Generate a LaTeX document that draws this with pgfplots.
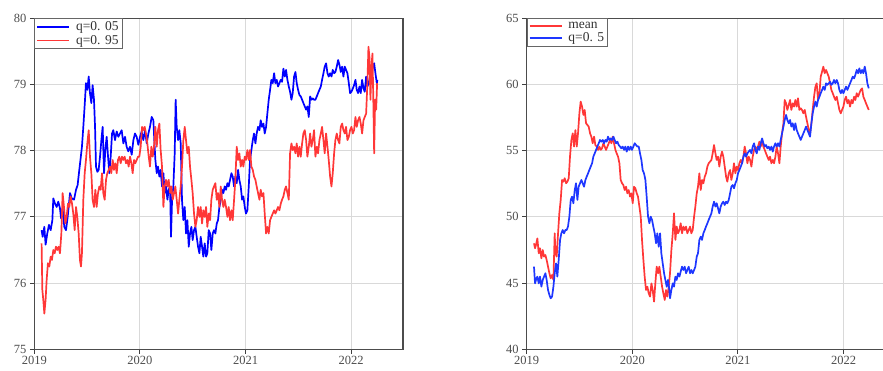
\documentclass[border=0pt]{standalone}
\usepackage{pgfplots}
\usepackage{pgfplotstable}
\usepackage{fontspec}
\setmainfont{Liberation Serif}
\pgfplotsset{compat=1.18}
\definecolor{qblue}{RGB}{0,0,255}
\definecolor{qred}{RGB}{255,55,55}
\definecolor{mblue}{RGB}{30,55,255}

\pgfplotstableread{
x y
2019.069 76.80
2019.079 76.70
2019.095 76.85
2019.107 76.58
2019.123 76.75
2019.139 76.88
2019.155 76.80
2019.171 76.95
2019.180 77.28
2019.196 77.20
2019.212 77.15
2019.227 77.23
2019.243 77.13
2019.253 76.98
2019.268 77.13
2019.284 76.85
2019.300 76.80
2019.316 77.00
2019.338 77.36
2019.354 77.28
2019.376 77.26
2019.395 77.41
2019.410 77.48
2019.426 77.71
2019.439 77.89
2019.451 78.06
2019.464 78.36
2019.480 78.77
2019.489 79.02
2019.502 78.92
2019.515 79.12
2019.527 78.87
2019.540 78.72
2019.552 78.99
2019.565 78.77
2019.575 78.36
2019.584 77.76
2019.597 77.68
2019.609 77.71
2019.622 77.91
2019.635 78.16
2019.647 78.36
2019.660 77.66
2019.672 78.01
2019.685 78.21
2019.698 77.91
2019.710 77.66
2019.723 77.91
2019.736 78.26
2019.748 78.31
2019.764 78.16
2019.780 78.29
2019.796 78.21
2019.811 78.26
2019.827 78.31
2019.843 78.11
2019.859 78.21
2019.874 78.06
2019.890 77.99
2019.906 78.06
2019.922 77.94
2019.938 78.16
2019.953 78.26
2019.969 78.21
2019.985 78.09
2020.001 78.21
2020.016 78.29
2020.032 78.16
2020.048 78.31
2020.064 78.11
2020.080 78.26
2020.095 78.36
2020.111 78.51
2020.127 78.46
2020.136 78.16
2020.146 77.86
2020.159 77.66
2020.171 77.76
2020.184 77.61
2020.196 77.71
2020.209 77.46
2020.222 77.66
2020.234 77.36
2020.247 77.46
2020.260 77.26
2020.272 77.41
2020.285 77.46
2020.294 76.70
2020.304 77.26
2020.316 77.46
2020.329 77.96
2020.338 78.77
2020.348 78.36
2020.361 78.16
2020.373 78.31
2020.386 78.11
2020.398 77.26
2020.411 76.95
2020.424 77.15
2020.436 76.75
2020.449 76.95
2020.462 76.55
2020.474 76.75
2020.487 76.85
2020.499 76.65
2020.512 76.80
2020.525 76.85
2020.537 76.70
2020.550 76.55
2020.563 76.45
2020.575 76.70
2020.588 76.55
2020.600 76.40
2020.613 76.60
2020.626 76.40
2020.638 76.45
2020.651 76.80
2020.664 76.75
2020.676 76.50
2020.689 76.75
2020.701 76.80
2020.714 76.75
2020.727 76.90
2020.739 76.95
2020.752 77.15
2020.765 77.26
2020.777 77.41
2020.790 77.36
2020.802 77.46
2020.815 77.41
2020.828 77.51
2020.840 77.46
2020.853 77.56
2020.866 77.66
2020.878 77.61
2020.891 77.46
2020.903 77.61
2020.916 77.51
2020.929 77.71
2020.941 77.56
2020.954 77.46
2020.967 77.26
2020.979 77.31
2020.992 77.15
2021.004 77.05
2021.017 77.10
2021.030 77.46
2021.042 77.86
2021.055 78.01
2021.068 78.16
2021.080 78.26
2021.093 78.11
2021.105 78.26
2021.118 78.36
2021.131 78.31
2021.143 78.46
2021.156 78.36
2021.169 78.41
2021.181 78.26
2021.194 78.36
2021.206 78.56
2021.219 78.77
2021.232 78.92
2021.244 79.07
2021.257 79.02
2021.270 79.17
2021.282 79.02
2021.295 79.07
2021.307 78.97
2021.320 79.02
2021.333 79.07
2021.345 79.04
2021.358 79.24
2021.371 79.12
2021.383 79.22
2021.396 79.07
2021.409 78.97
2021.421 78.89
2021.434 78.77
2021.446 78.87
2021.459 79.12
2021.472 79.19
2021.484 79.02
2021.497 78.92
2021.510 78.84
2021.522 78.82
2021.535 78.77
2021.547 78.72
2021.560 78.67
2021.573 78.62
2021.585 78.67
2021.598 78.51
2021.611 78.82
2021.623 78.77
2021.636 78.79
2021.648 78.77
2021.661 78.77
2021.674 78.82
2021.686 78.87
2021.699 78.92
2021.712 78.97
2021.724 79.07
2021.737 79.17
2021.749 79.27
2021.762 79.32
2021.775 79.17
2021.787 79.12
2021.800 79.17
2021.813 79.12
2021.825 79.22
2021.838 79.17
2021.850 79.19
2021.863 79.27
2021.876 79.37
2021.888 79.30
2021.901 79.19
2021.914 79.27
2021.926 79.12
2021.939 79.27
2021.951 79.22
2021.964 79.17
2021.977 79.02
2021.989 78.87
2022.002 78.89
2022.015 78.94
2022.027 78.99
2022.040 79.07
2022.052 78.92
2022.065 78.87
2022.078 78.97
2022.090 78.87
2022.103 79.07
2022.116 78.94
2022.128 78.89
2022.141 79.12
2022.153 78.97
2022.166 79.02
2022.179 79.14
2022.191 79.12
2022.204 79.27
2022.217 79.32
2022.229 79.17
2022.242 79.02
2022.248 79.07
}\leftblue

\pgfplotstableread{
x y
2019.069 76.60
2019.076 75.90
2019.085 75.75
2019.095 75.54
2019.107 75.75
2019.117 76.05
2019.129 76.30
2019.142 76.25
2019.155 76.40
2019.167 76.35
2019.180 76.50
2019.193 76.45
2019.205 76.55
2019.218 76.50
2019.230 76.55
2019.243 76.45
2019.256 76.75
2019.268 77.36
2019.281 77.15
2019.294 76.90
2019.306 77.00
2019.319 77.20
2019.331 77.15
2019.344 77.31
2019.357 77.20
2019.369 77.05
2019.382 76.80
2019.395 77.15
2019.407 77.00
2019.420 76.75
2019.432 76.35
2019.442 76.25
2019.451 76.45
2019.464 77.26
2019.477 77.66
2019.489 77.86
2019.502 78.11
2019.515 78.31
2019.527 77.91
2019.540 77.66
2019.552 77.26
2019.565 77.15
2019.578 77.41
2019.590 77.15
2019.603 77.36
2019.616 77.46
2019.628 77.41
2019.641 77.66
2019.653 77.36
2019.666 77.26
2019.679 77.56
2019.691 77.66
2019.704 77.71
2019.717 77.76
2019.729 77.66
2019.742 77.86
2019.754 77.71
2019.767 77.81
2019.780 77.66
2019.792 77.86
2019.805 77.91
2019.818 77.81
2019.830 77.91
2019.843 77.86
2019.855 77.91
2019.868 77.81
2019.881 77.86
2019.893 77.76
2019.906 77.91
2019.919 77.81
2019.931 77.66
2019.944 77.86
2019.956 77.81
2019.969 77.86
2019.982 77.91
2019.994 77.91
2020.007 78.06
2020.020 78.36
2020.032 78.31
2020.045 78.36
2020.057 78.26
2020.070 78.11
2020.083 77.91
2020.095 77.76
2020.108 78.06
2020.121 77.91
2020.133 78.06
2020.146 78.36
2020.159 78.06
2020.171 78.31
2020.184 78.41
2020.196 78.01
2020.209 77.76
2020.222 77.15
2020.234 77.46
2020.247 77.56
2020.260 77.46
2020.272 77.56
2020.285 77.36
2020.297 77.46
2020.310 77.26
2020.323 77.36
2020.335 77.46
2020.348 77.26
2020.361 77.05
2020.373 77.26
2020.386 77.46
2020.398 77.76
2020.411 78.16
2020.424 78.36
2020.436 78.16
2020.449 77.96
2020.462 78.06
2020.474 77.76
2020.487 77.56
2020.499 77.36
2020.512 77.05
2020.525 76.85
2020.537 76.95
2020.550 77.15
2020.563 77.00
2020.575 77.15
2020.588 76.90
2020.600 77.10
2020.613 77.00
2020.626 77.15
2020.638 76.85
2020.651 77.05
2020.664 76.95
2020.676 77.26
2020.689 77.41
2020.701 77.46
2020.714 77.51
2020.727 77.26
2020.739 77.36
2020.752 77.15
2020.765 77.46
2020.777 77.26
2020.790 77.15
2020.802 77.26
2020.815 77.15
2020.828 77.00
2020.840 77.15
2020.853 76.95
2020.866 77.10
2020.878 76.95
2020.891 77.26
2020.903 77.56
2020.916 78.06
2020.929 77.86
2020.941 77.96
2020.954 77.76
2020.967 77.86
2020.979 77.76
2020.992 77.91
2021.004 77.86
2021.017 78.01
2021.030 77.86
2021.042 78.01
2021.055 77.76
2021.068 77.71
2021.080 77.61
2021.093 77.56
2021.105 77.46
2021.118 77.36
2021.131 77.26
2021.143 77.41
2021.156 77.31
2021.169 77.36
2021.181 77.05
2021.194 76.75
2021.206 76.85
2021.219 76.75
2021.232 76.95
2021.244 77.00
2021.257 77.05
2021.270 77.10
2021.282 77.05
2021.295 77.10
2021.307 77.15
2021.320 77.10
2021.333 77.20
2021.345 77.26
2021.358 77.31
2021.371 77.41
2021.383 77.46
2021.396 77.36
2021.409 77.26
2021.421 77.96
2021.434 78.11
2021.446 78.01
2021.459 78.06
2021.472 77.96
2021.484 78.11
2021.497 77.91
2021.510 78.06
2021.522 77.91
2021.535 78.11
2021.547 78.26
2021.560 78.31
2021.573 78.16
2021.585 77.91
2021.598 78.06
2021.611 78.26
2021.623 78.06
2021.636 78.16
2021.648 78.31
2021.661 77.91
2021.674 78.06
2021.686 77.96
2021.699 78.16
2021.712 78.26
2021.724 78.36
2021.737 78.16
2021.749 77.96
2021.762 78.26
2021.775 78.06
2021.787 77.86
2021.800 77.61
2021.813 77.46
2021.825 77.66
2021.838 77.96
2021.850 78.16
2021.863 78.26
2021.876 78.16
2021.888 78.11
2021.901 78.36
2021.914 78.41
2021.926 78.31
2021.939 78.26
2021.951 78.36
2021.964 78.16
2021.977 78.21
2021.989 78.31
2022.002 78.36
2022.015 78.26
2022.027 78.31
2022.040 78.51
2022.052 78.36
2022.065 78.46
2022.078 78.51
2022.090 78.41
2022.103 78.26
2022.116 78.46
2022.128 78.51
2022.141 78.56
2022.153 79.02
2022.163 79.57
2022.172 79.42
2022.182 78.77
2022.191 79.27
2022.201 79.47
2022.210 78.67
2022.217 77.96
2022.226 78.77
2022.236 78.62
2022.245 79.02
}\leftred

\pgfplotstableread{
x y
2019.069 48.00
2019.079 47.63
2019.088 47.88
2019.101 48.38
2019.114 47.25
2019.126 47.63
2019.139 46.87
2019.152 47.50
2019.164 47.00
2019.177 47.12
2019.189 46.75
2019.202 46.24
2019.215 45.74
2019.227 45.36
2019.240 45.61
2019.253 45.24
2019.265 48.76
2019.272 47.25
2019.284 47.00
2019.297 48.76
2019.309 50.27
2019.322 51.28
2019.335 52.79
2019.347 52.66
2019.360 52.92
2019.373 52.54
2019.385 52.66
2019.398 52.92
2019.410 54.55
2019.423 55.81
2019.436 56.31
2019.448 55.31
2019.461 56.56
2019.474 55.31
2019.486 56.31
2019.499 57.82
2019.511 58.71
2019.524 58.33
2019.537 57.70
2019.549 58.08
2019.562 57.07
2019.575 56.94
2019.587 56.82
2019.600 56.31
2019.612 56.06
2019.625 55.56
2019.638 56.06
2019.650 55.43
2019.663 55.31
2019.676 55.06
2019.688 55.31
2019.701 55.06
2019.713 55.18
2019.726 55.56
2019.739 55.31
2019.751 55.06
2019.764 55.31
2019.777 55.56
2019.789 55.81
2019.802 55.56
2019.814 56.06
2019.827 55.56
2019.840 55.06
2019.852 54.80
2019.865 54.55
2019.878 54.05
2019.890 52.79
2019.903 52.54
2019.915 52.41
2019.928 52.03
2019.941 52.28
2019.953 51.78
2019.966 52.03
2019.979 51.53
2019.991 51.78
2020.004 51.03
2020.016 52.28
2020.029 52.16
2020.042 51.78
2020.054 51.53
2020.067 50.78
2020.080 50.02
2020.092 48.26
2020.105 46.75
2020.117 45.49
2020.130 44.48
2020.143 44.73
2020.155 44.23
2020.168 43.98
2020.181 44.98
2020.193 44.48
2020.206 43.60
2020.218 44.98
2020.231 46.24
2020.244 45.74
2020.256 46.24
2020.269 45.49
2020.282 44.73
2020.294 44.23
2020.307 43.73
2020.319 44.48
2020.332 43.98
2020.345 44.73
2020.357 45.74
2020.370 47.50
2020.383 48.76
2020.395 50.27
2020.408 48.26
2020.420 49.27
2020.433 48.76
2020.446 49.01
2020.458 49.52
2020.471 48.76
2020.484 49.27
2020.496 49.01
2020.509 49.27
2020.521 48.76
2020.534 49.01
2020.547 49.27
2020.559 48.76
2020.572 49.01
2020.585 50.02
2020.597 50.78
2020.610 51.78
2020.622 52.28
2020.635 53.29
2020.648 52.03
2020.660 52.79
2020.673 52.54
2020.686 53.04
2020.698 53.29
2020.711 53.80
2020.723 54.05
2020.736 54.17
2020.749 54.30
2020.761 54.80
2020.774 55.43
2020.787 54.80
2020.799 54.30
2020.812 54.55
2020.824 53.80
2020.837 54.55
2020.850 54.93
2020.862 54.55
2020.875 53.80
2020.888 53.04
2020.900 52.66
2020.913 53.29
2020.926 53.54
2020.938 52.79
2020.951 53.29
2020.963 54.05
2020.976 53.29
2020.989 53.80
2021.001 53.54
2021.014 54.05
2021.027 54.30
2021.039 54.05
2021.052 54.55
2021.064 55.31
2021.077 54.80
2021.090 54.05
2021.102 54.55
2021.115 54.30
2021.128 53.80
2021.140 54.55
2021.153 55.06
2021.165 55.31
2021.178 55.06
2021.191 55.31
2021.203 55.68
2021.216 55.31
2021.229 55.81
2021.241 55.31
2021.254 55.06
2021.266 54.80
2021.279 54.55
2021.292 54.30
2021.304 54.55
2021.317 54.05
2021.330 54.30
2021.342 54.05
2021.355 54.55
2021.367 55.31
2021.380 54.80
2021.393 54.05
2021.405 55.31
2021.418 56.31
2021.431 57.07
2021.443 58.83
2021.456 58.58
2021.468 58.08
2021.481 58.45
2021.494 58.83
2021.506 58.08
2021.519 58.58
2021.532 58.33
2021.544 58.83
2021.557 58.33
2021.569 58.96
2021.582 58.08
2021.595 58.20
2021.607 58.08
2021.620 57.82
2021.633 58.08
2021.645 57.57
2021.658 57.07
2021.671 56.56
2021.683 56.31
2021.696 57.07
2021.708 58.08
2021.721 59.08
2021.734 59.84
2021.746 60.09
2021.759 58.83
2021.772 59.34
2021.784 60.59
2021.797 60.97
2021.809 61.35
2021.822 60.85
2021.835 61.10
2021.847 60.85
2021.860 60.59
2021.873 60.09
2021.885 59.59
2021.898 59.34
2021.910 59.08
2021.923 58.83
2021.936 59.08
2021.948 58.58
2021.961 58.08
2021.974 57.82
2021.986 58.08
2021.999 58.33
2022.011 58.83
2022.024 59.08
2022.037 58.58
2022.049 58.83
2022.062 58.33
2022.075 58.83
2022.087 58.58
2022.100 59.08
2022.112 58.83
2022.125 59.34
2022.138 59.08
2022.150 59.34
2022.163 59.59
2022.176 59.71
2022.188 59.08
2022.201 58.83
2022.213 58.58
2022.226 58.33
2022.239 58.08
}\rightred

\pgfplotstableread{
x y
2019.069 46.24
2019.079 44.98
2019.088 45.24
2019.101 45.49
2019.114 44.98
2019.126 45.49
2019.139 44.73
2019.152 45.24
2019.164 45.49
2019.177 45.74
2019.189 45.24
2019.202 44.48
2019.215 44.10
2019.227 43.85
2019.240 43.98
2019.253 44.73
2019.265 45.74
2019.278 46.49
2019.290 45.49
2019.303 46.75
2019.316 48.26
2019.328 48.76
2019.341 49.01
2019.354 48.76
2019.366 49.01
2019.379 49.01
2019.391 49.27
2019.404 50.02
2019.417 51.28
2019.429 51.53
2019.442 51.03
2019.455 52.03
2019.467 52.54
2019.480 51.28
2019.492 52.28
2019.505 52.54
2019.518 52.79
2019.530 52.54
2019.543 52.28
2019.556 52.79
2019.568 53.04
2019.581 53.29
2019.593 53.54
2019.606 53.80
2019.619 54.05
2019.631 54.55
2019.644 54.80
2019.657 55.06
2019.669 55.31
2019.682 55.56
2019.694 55.81
2019.707 55.68
2019.720 55.81
2019.732 55.56
2019.745 55.81
2019.758 55.68
2019.770 56.06
2019.783 55.81
2019.795 55.93
2019.808 55.81
2019.821 56.06
2019.833 55.81
2019.846 55.56
2019.859 55.68
2019.871 55.43
2019.884 55.31
2019.896 55.18
2019.909 55.31
2019.922 55.06
2019.934 55.31
2019.947 54.93
2019.960 55.31
2019.972 55.06
2019.985 55.31
2019.997 55.06
2020.010 55.31
2020.023 55.56
2020.035 55.43
2020.048 55.31
2020.061 55.31
2020.073 54.80
2020.086 54.30
2020.098 53.54
2020.111 53.29
2020.124 52.79
2020.136 51.53
2020.149 50.02
2020.162 49.52
2020.174 50.02
2020.187 49.77
2020.199 49.27
2020.212 48.76
2020.225 48.01
2020.237 48.76
2020.250 47.75
2020.263 48.76
2020.275 47.25
2020.288 46.49
2020.301 45.74
2020.313 45.24
2020.326 44.73
2020.338 45.24
2020.351 44.48
2020.357 43.85
2020.370 44.48
2020.383 44.98
2020.395 44.73
2020.408 45.49
2020.420 45.24
2020.433 45.74
2020.446 45.49
2020.458 45.87
2020.471 46.24
2020.484 45.99
2020.496 46.24
2020.509 45.74
2020.521 45.99
2020.534 46.24
2020.547 45.74
2020.559 45.99
2020.572 45.74
2020.585 45.99
2020.597 46.24
2020.610 47.00
2020.622 47.25
2020.635 48.26
2020.648 48.51
2020.660 48.26
2020.673 48.76
2020.686 49.01
2020.698 49.27
2020.711 49.52
2020.723 49.77
2020.736 50.02
2020.749 50.27
2020.761 50.78
2020.774 51.15
2020.787 50.78
2020.799 51.03
2020.812 50.65
2020.824 50.27
2020.837 50.78
2020.850 51.03
2020.862 51.15
2020.875 50.90
2020.888 51.15
2020.900 51.03
2020.913 51.28
2020.926 51.78
2020.938 52.28
2020.951 52.41
2020.963 52.16
2020.976 52.54
2020.989 52.79
2021.001 53.29
2021.014 53.54
2021.027 53.80
2021.039 54.05
2021.052 54.55
2021.064 54.80
2021.077 54.55
2021.090 54.80
2021.102 54.93
2021.115 55.06
2021.128 54.80
2021.140 55.31
2021.153 55.56
2021.165 55.06
2021.178 54.80
2021.191 55.31
2021.203 55.06
2021.216 55.56
2021.229 55.93
2021.241 55.56
2021.254 55.31
2021.266 55.43
2021.279 55.18
2021.292 55.31
2021.304 55.06
2021.317 55.31
2021.330 54.93
2021.342 55.31
2021.355 55.56
2021.367 55.31
2021.380 55.56
2021.393 55.31
2021.405 55.81
2021.418 56.31
2021.431 56.82
2021.443 57.32
2021.456 57.70
2021.468 57.32
2021.481 57.07
2021.494 57.32
2021.506 56.82
2021.519 57.07
2021.532 56.56
2021.544 57.07
2021.557 56.56
2021.569 56.31
2021.582 56.06
2021.595 55.81
2021.607 56.06
2021.620 56.31
2021.633 56.56
2021.645 56.82
2021.658 56.56
2021.671 56.31
2021.683 56.06
2021.696 57.07
2021.708 57.82
2021.721 58.33
2021.734 58.71
2021.746 58.33
2021.759 58.83
2021.772 59.08
2021.784 59.34
2021.797 59.59
2021.809 59.84
2021.822 59.59
2021.835 60.09
2021.847 59.97
2021.860 60.09
2021.873 60.21
2021.885 59.97
2021.898 60.09
2021.910 60.34
2021.923 60.09
2021.936 60.34
2021.948 60.09
2021.961 59.59
2021.974 59.34
2021.986 59.59
2021.999 59.34
2022.011 59.59
2022.024 59.84
2022.037 59.59
2022.049 59.84
2022.062 60.09
2022.075 60.34
2022.087 60.59
2022.100 60.46
2022.112 60.72
2022.125 61.10
2022.138 60.85
2022.150 61.22
2022.163 60.85
2022.176 61.10
2022.188 60.85
2022.201 61.35
2022.213 60.85
2022.226 60.09
2022.239 59.71
}\rightblue

\begin{document}
\begin{tikzpicture}
\useasboundingbox (0,0) rectangle (883pt,370pt);
\pgfplotsset{
  myaxis/.style={
    scale only axis,
    height=331pt,
    anchor=south west,
    xmin=2019,
    xtick={2019,2020,2021,2022},
    xticklabels={2019,2020,2021,2022},
    grid=major,
    major grid style={draw=black!15, line width=1pt},
    tick align=outside,
    tick pos=left,
    major tick length=4.5pt,
    tick style={black!75, line width=1pt},
    axis line style={black!70, line width=1.2pt},
    /pgf/number format/assume math mode=true,
    ticklabel style={font=\fontsize{12.5}{13}\selectfont, text=black!70},
    xticklabel style={yshift=1pt},
    legend cell align=left,
    legend style={at={(0,1)}, anchor=north west, draw=black!60, line width=1pt,
      fill=white, font=\fontsize{13.5}{14}\selectfont, text=black!80,
      inner xsep=1.5pt, inner ysep=1pt, row sep=-1pt},
    legend image code/.code={\draw[##1, line width=1.8pt] (0pt,0pt) -- (32pt,0pt); \path (36pt,0pt);},
    every axis plot/.append style={line width=1.7pt, line join=round},
  }
}
\begin{axis}[myaxis, at={(34.3pt,20.7pt)}, width=368.7pt, xmax=2022.49,
  ymin=75, ymax=80, ytick={75,76,77,78,79,80}]
\addplot[qblue] table {\leftblue};
\addlegendentry{q=0. 05}
\addplot[qred] table {\leftred};
\addlegendentry{q=0. 95}
\end{axis}
\begin{axis}[myaxis, at={(526.7pt,20.7pt)}, width=356.3pt, xmax=2022.374,
  ymin=40, ymax=65, ytick={40,45,50,55,60,65},
  axis x line*=box, axis y line*=left]
\addplot[qred] table {\rightred};
\addlegendentry{mean}
\addplot[mblue] table {\rightblue};
\addlegendentry{q=0. 5}
\end{axis}
\end{tikzpicture}
\end{document}
